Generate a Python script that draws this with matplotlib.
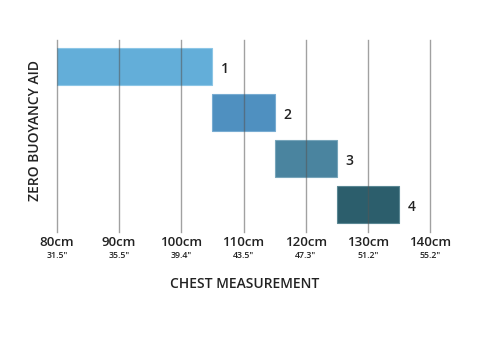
import matplotlib
matplotlib.use("Agg")
import matplotlib.pyplot as plt
from matplotlib.transforms import blended_transform_factory

sizes = ["1", "2", "3", "4"]
starts = [80, 105, 115, 125]
ends = [105, 115, 125, 135]
colors = ["#63aed9", "#4f90c0", "#4a849f", "#2c5e6c"]
edge_colors = ["#8cc6e6", "#78acd2", "#77a5ba", "#5a8793"]
tick_cm = [80, 90, 100, 110, 120, 130, 140]
tick_cm_labels = ["80cm", "90cm", "100cm", "110cm", "120cm", "130cm", "140cm"]
tick_in_labels = ['31.5"', '35.5"', '39.4"', '43.5"', '47.3"', '51.2"', '55.2"']

plt.rcParams['font.family'] = ['Open Sans', 'DejaVu Sans']

fig = plt.figure(figsize=(4.8, 3.55), dpi=100)
ax = fig.add_axes([57/480, 1-232/355, (430-57)/480, 192/355])

ypos = list(range(len(sizes)))
for i in ypos:
    ax.barh(i, ends[i]-starts[i], left=starts[i], height=0.82,
            color=colors[i], edgecolor=edge_colors[i], linewidth=0.8, zorder=2)
    ax.text(ends[i] + 1.4, i + 0.05, sizes[i], va="center", ha="left",
            fontsize=10, color="#222222", fontweight="semibold", zorder=4)

for x in tick_cm:
    ax.axvline(x, color="#555555", alpha=0.55, linewidth=1, zorder=3, clip_on=False)

ax.set_xlim(80, 140)
ax.set_ylim(3.6, -0.58)
ax.set_yticks([])
ax.set_xticks(tick_cm)
ax.set_xticklabels(tick_cm_labels, fontsize=9.5, color="#222222", fontweight="semibold")
ax.tick_params(axis="x", length=0, pad=3)
for s in ax.spines.values():
    s.set_visible(False)

trans = blended_transform_factory(ax.transData, fig.transFigure)
for x, lab in zip(tick_cm, tick_in_labels):
    ax.text(x, 1-255.5/355, lab, transform=trans, ha="center", va="center",
            fontsize=6.3, color="#222222", fontweight="semibold")

fig.text(245/480, 1-284/355, "CHEST MEASUREMENT", ha="center", va="center",
         fontsize=10, color="#222222", fontweight="semibold")
fig.text(35/480, 1-131/355, "ZERO BUOYANCY AID", ha="center", va="center",
         rotation=90, fontsize=10, color="#222222", fontweight="semibold")

fig.savefig("out.png", dpi=100, facecolor="white")
